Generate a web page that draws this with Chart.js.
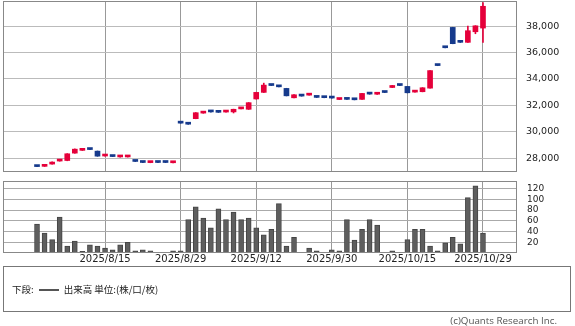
<!DOCTYPE html>
<html lang="ja">
<head>
<meta charset="UTF-8">
<title>株価チャート</title>
<script src="https://cdn.jsdelivr.net/npm/chart.js"></script>
<style>
  body { margin: 0; width: 575px; height: 326px; background: #fff; position: relative; overflow: hidden; }
  #priceChart { position: absolute; left: 0; top: 0; }
  #volumeChart { position: absolute; left: 0; top: 176px; }
  #legendBox {
    position: absolute; left: 3px; top: 266px; width: 568px; height: 46px;
    border: 1px solid #777; box-sizing: border-box;
    font-family: "Noto Sans CJK JP", sans-serif; font-size: 9.5px; color: #222;
  }
  #legendBox .row { position: absolute; left: 8px; top: 15px; white-space: nowrap; }
  #legendBox .swatch { display: inline-block; width: 20px; height: 2px; background: #555; vertical-align: middle; margin: 0 5px 0 5px; }
  #credit {
    position: absolute; right: 18px; top: 314px;
    font-family: "Open Sans", sans-serif; font-size: 9.8px; color: #555;
  }
</style>
</head>
<body>
<canvas id="priceChart" width="575" height="173"></canvas>
<canvas id="volumeChart" width="575" height="96"></canvas>
<div id="legendBox"><div class="row">下段:<span class="swatch"></span>出来高 単位:(株/口/枚)</div></div>
<div id="credit">(c)Quants Research Inc.</div>

<script>
// trading days shown (2025)
const dates = [
  '2025/8/1','2025/8/4','2025/8/5','2025/8/6','2025/8/7','2025/8/8','2025/8/12','2025/8/13','2025/8/14','2025/8/15',
  '2025/8/18','2025/8/19','2025/8/20','2025/8/21','2025/8/22','2025/8/25','2025/8/26','2025/8/27','2025/8/28','2025/8/29',
  '2025/9/1','2025/9/2','2025/9/3','2025/9/4','2025/9/5','2025/9/8','2025/9/9','2025/9/10','2025/9/11','2025/9/12',
  '2025/9/16','2025/9/17','2025/9/18','2025/9/19','2025/9/22','2025/9/24','2025/9/25','2025/9/26','2025/9/29','2025/9/30',
  '2025/10/1','2025/10/2','2025/10/3','2025/10/6','2025/10/7','2025/10/8','2025/10/9','2025/10/10','2025/10/14','2025/10/15',
  '2025/10/16','2025/10/17','2025/10/20','2025/10/21','2025/10/22','2025/10/23','2025/10/24','2025/10/27','2025/10/28','2025/10/29'
];
const xTickLabels = ['2025/8/15', '2025/8/29', '2025/9/12', '2025/9/30', '2025/10/15', '2025/10/29'];

const open = [
  27380, 27380, 27550, 27780, 27820, 28380, 28590, 28660, 28530, 28160,
  28130, 28090, 28090, 27760, 27680, 27660, 27680, 27680, 27650, 30670,
  30590, 30990, 31410, 31510, 31480, 31490, 31500, 31730, 31700, 32480,
  32980, 33510, 33410, 33280, 32570, 32710, 32770, 32610, 32590, 32560,
  32440, 32460, 32430, 32450, 32860, 32840, 32980, 33350, 33510, 33430,
  33000, 33030, 33300, 35020, 36370, 37900, 36780, 36770, 37570, 37850
];
const high = [
  27390, 27520, 27720, 27880, 28340, 28700, 28620, 28670, 28540, 28180,
  28140, 28110, 28110, 27770, 27690, 27690, 27690, 27690, 27700, 30680,
  30600, 31450, 31430, 31520, 31490, 31510, 31710, 31760, 32210, 32990,
  33680, 33520, 33420, 33290, 32810, 32720, 32790, 32620, 32600, 32570,
  32460, 32470, 32440, 32910, 32870, 32860, 32990, 33510, 33520, 33440,
  33080, 33340, 34640, 35030, 36380, 37910, 36790, 38000, 38030, 39780
];
const low = [
  27350, 27370, 27540, 27770, 27800, 28370, 28580, 28640, 28140, 28150,
  28110, 28080, 28080, 27740, 27660, 27650, 27660, 27660, 27640, 30640,
  30560, 30980, 31400, 31490, 31460, 31480, 31420, 31720, 31690, 32470,
  32970, 33490, 33390, 32710, 32560, 32690, 32760, 32590, 32570, 32540,
  32430, 32440, 32410, 32440, 32840, 32830, 32960, 33340, 33490, 32940,
  32990, 33020, 33290, 35000, 36350, 36660, 36760, 36760, 37420, 36770
];
const close = [
  27360, 27500, 27700, 27870, 28330, 28680, 28610, 28650, 28150, 28170,
  28120, 28100, 28100, 27750, 27670, 27680, 27670, 27670, 27690, 30650,
  30570, 31440, 31420, 31500, 31470, 31500, 31700, 31750, 32200, 32980,
  33530, 33500, 33400, 32720, 32800, 32700, 32780, 32600, 32580, 32550,
  32450, 32450, 32420, 32900, 32850, 32850, 32970, 33500, 33500, 32950,
  33070, 33330, 34630, 35010, 36360, 36670, 36770, 37650, 38020, 39500
];
const volume = [
  54, 37, 25, 67, 13, 22, 3, 15, 13, 9,
  6, 15, 20, 4, 6, 4, 0, 0, 4, 4,
  62, 86, 65, 47, 82, 62, 76, 62, 65, 47,
  34, 44, 92, 13, 29, 0, 9, 4, 0, 6,
  4, 62, 24, 44, 62, 52, 0, 4, 0, 25,
  44, 44, 13, 4, 19, 29, 17, 103, 125, 37
];
const priceTicks = [28000, 30000, 32000, 34000, 36000, 38000];
const volumeTicks = [20, 40, 60, 80, 100, 120];

const UP = '#e5003a';
const DOWN = '#163a8c';
const PAD = 4; // empty slots on each side of the chart

const labels = [...Array(PAD).fill(''), ...dates, ...Array(PAD).fill('')];
const padArr = arr => [...Array(PAD).fill(null), ...arr, ...Array(PAD).fill(null)];
const gridIdx = xTickLabels.map(l => labels.indexOf(l));
const candleColor = padArr(open.map((o, i) => close[i] >= o ? UP : DOWN));

const frame = {
  id: 'frame',
  afterDraw(chart) {
    const { ctx, chartArea: a } = chart;
    ctx.save();
    ctx.strokeStyle = '#888';
    ctx.lineWidth = 1;
    ctx.strokeRect(Math.round(a.left) + 0.5, Math.round(a.top) + 0.5,
                   Math.round(a.right - a.left) - 1, Math.round(a.bottom - a.top) - 1);
    ctx.restore();
  }
};

const vGrid = {
  offset: false,
  drawTicks: false,
  color: c => gridIdx.includes(c.index) ? '#999' : 'rgba(0,0,0,0)'
};

// right-hand value axis: fixed width, no extra top/bottom padding from labels
const fitRight = a => { a.width = 58; a.paddingTop = 0; a.paddingBottom = 0; };

new Chart(document.getElementById('priceChart'), {
  type: 'bar',
  data: {
    labels: labels,
    datasets: [
      {
        data: padArr(open.map((o, i) => [o, close[i]])),
        backgroundColor: candleColor,
        barThickness: 5,
        minBarLength: 2,
        grouped: false
      },
      {
        data: padArr(low.map((l, i) => [l, high[i]])),
        backgroundColor: candleColor,
        barThickness: 1,
        grouped: false
      }
    ]
  },
  options: {
    responsive: false,
    animation: false,
    layout: { padding: { left: 3, top: 1, right: 0, bottom: 1 } },
    plugins: { legend: { display: false }, tooltip: { enabled: false } },
    scales: {
      x: {
        grid: vGrid,
        border: { display: false },
        ticks: { display: false, autoSkip: false },
        afterFit: a => { a.height = 0; }
      },
      y: {
        position: 'right',
        min: 26950,
        max: 39900,
        afterBuildTicks: a => { a.ticks = priceTicks.map(v => ({ value: v })); },
        afterFit: fitRight,
        grid: { color: '#bbb', drawTicks: false },
        border: { display: false },
        ticks: {
          autoSkip: false,
          padding: 9,
          color: '#222',
          font: { family: 'DejaVu Sans', size: 9.5 },
          callback: v => v.toLocaleString('en-US')
        }
      }
    }
  },
  plugins: [frame]
});

new Chart(document.getElementById('volumeChart'), {
  type: 'bar',
  data: {
    labels: labels,
    datasets: [{
      data: padArr(volume),
      backgroundColor: '#5e5e5e',
      borderColor: '#444',
      borderWidth: 1,
      barThickness: 5
    }]
  },
  options: {
    responsive: false,
    animation: false,
    layout: { padding: { left: 3, top: 5, right: 0, bottom: 5 } },
    plugins: { legend: { display: false }, tooltip: { enabled: false } },
    scales: {
      x: {
        grid: vGrid,
        border: { display: false },
        afterFit: a => { a.height = 14; a.paddingLeft = 0; a.paddingRight = 0; },
        ticks: {
          autoSkip: false,
          maxRotation: 0,
          padding: 0,
          color: '#222',
          font: { family: 'DejaVu Sans', size: 10 },
          callback: (v, i) => gridIdx.includes(i) ? labels[i] : ''
        }
      },
      y: {
        position: 'right',
        min: 0,
        max: 134,
        afterBuildTicks: a => { a.ticks = volumeTicks.map(v => ({ value: v })); },
        afterFit: fitRight,
        grid: { color: '#aaa', drawTicks: false },
        border: { display: false },
        ticks: {
          autoSkip: false,
          padding: 10,
          color: '#222',
          font: { family: 'DejaVu Sans', size: 9 }
        }
      }
    }
  },
  plugins: [frame]
});
</script>
</body>
</html>
